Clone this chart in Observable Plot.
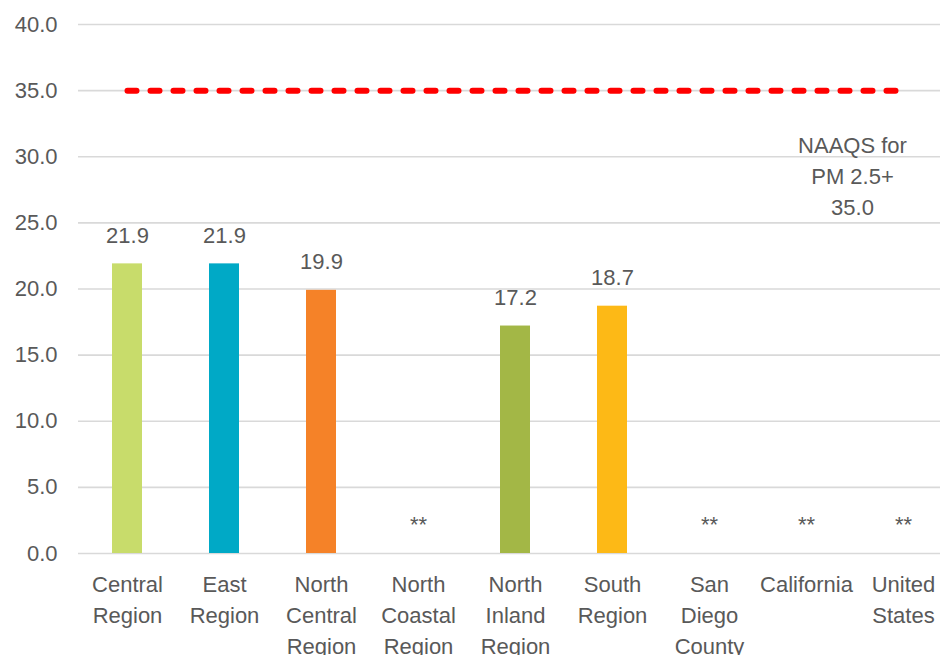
<!DOCTYPE html>
<html>
<head>
<meta charset="utf-8">
<script src="https://cdn.jsdelivr.net/npm/d3@7"></script>
<script src="https://cdn.jsdelivr.net/npm/@observablehq/plot@0.6"></script>
<style>
  body { margin: 0; background: #fff; }
  #chart svg { display: block; }
</style>
</head>
<body>
<div id="chart"></div>
<script>
const categories = ["Central\nRegion", "East\nRegion", "North\nCentral\nRegion", "North\nCoastal\nRegion", "North\nInland\nRegion", "South\nRegion", "San\nDiego\nCounty", "California", "United\nStates"];
const values = [21.9, 21.9, 19.9, null, 17.2, 18.7, null, null, null];
const barColors = ["#c8dc6b", "#00a9c6", "#f58228", "#ffffff", "#a3b746", "#fdb916", "#ffffff", "#ffffff", "#ffffff"];
const yTicks = [0, 5, 10, 15, 20, 25, 30, 35, 40];
const standard = 35;
const standardLabel = "NAAQS for\nPM 2.5+\n35.0";
const standardLabelY = 28.7;
const missingLabel = "**";

const rows = categories.map((name, i) => ({name, value: values[i], color: barColors[i]}));
const present = rows.filter(d => d.value != null);
const missing = rows.filter(d => d.value == null);
const standardLine = [{name: categories[0], v: standard}, {name: categories[categories.length - 1], v: standard}];

const chart = Plot.plot({
  width: 940,
  height: 655,
  marginLeft: 78,
  marginRight: -13,
  marginTop: 24,
  marginBottom: 102,
  style: {fontFamily: "'Liberation Sans', Arial, sans-serif", fontSize: "22px", color: "#595959", background: "#fff", overflow: "hidden"},
  x: {domain: categories, paddingInner: 0.686, paddingOuter: 0.343, align: 0.5, label: null},
  y: {domain: [0, 40], label: null},
  color: {type: "identity"},
  marks: [
    Plot.ruleY(yTicks, {stroke: "#d9d9d9", strokeWidth: 1.6}),
    Plot.axisY({ticks: yTicks, tickFormat: d3.format(".1f"), tickSize: 0, tickPadding: 21, label: null, fontSize: 22}),
    Plot.axisX({tickSize: 0, tickPadding: 16, label: null, lineHeight: 1.41, fontSize: 22}),
    Plot.barY(present, {x: "name", y: "value", fill: "color"}),
    Plot.text(present, {x: "name", y: "value", text: d => d3.format(".1f")(d.value), dy: -28, fill: "#595959"}),
    Plot.text(missing, {x: "name", y: () => 0, text: () => missingLabel, dy: -29, fill: "#595959"}),
    Plot.line(standardLine, {x: "name", y: "v", stroke: "#ff0000", strokeWidth: 6, strokeDasharray: "9,14", strokeLinecap: "round"}),
    Plot.text([standardLabel], {x: () => categories[7], y: () => standardLabelY, text: d => d, dx: 46, lineHeight: 1.41, fill: "#595959"})
  ]
});
document.getElementById("chart").appendChild(chart);
</script>
</body>
</html>
